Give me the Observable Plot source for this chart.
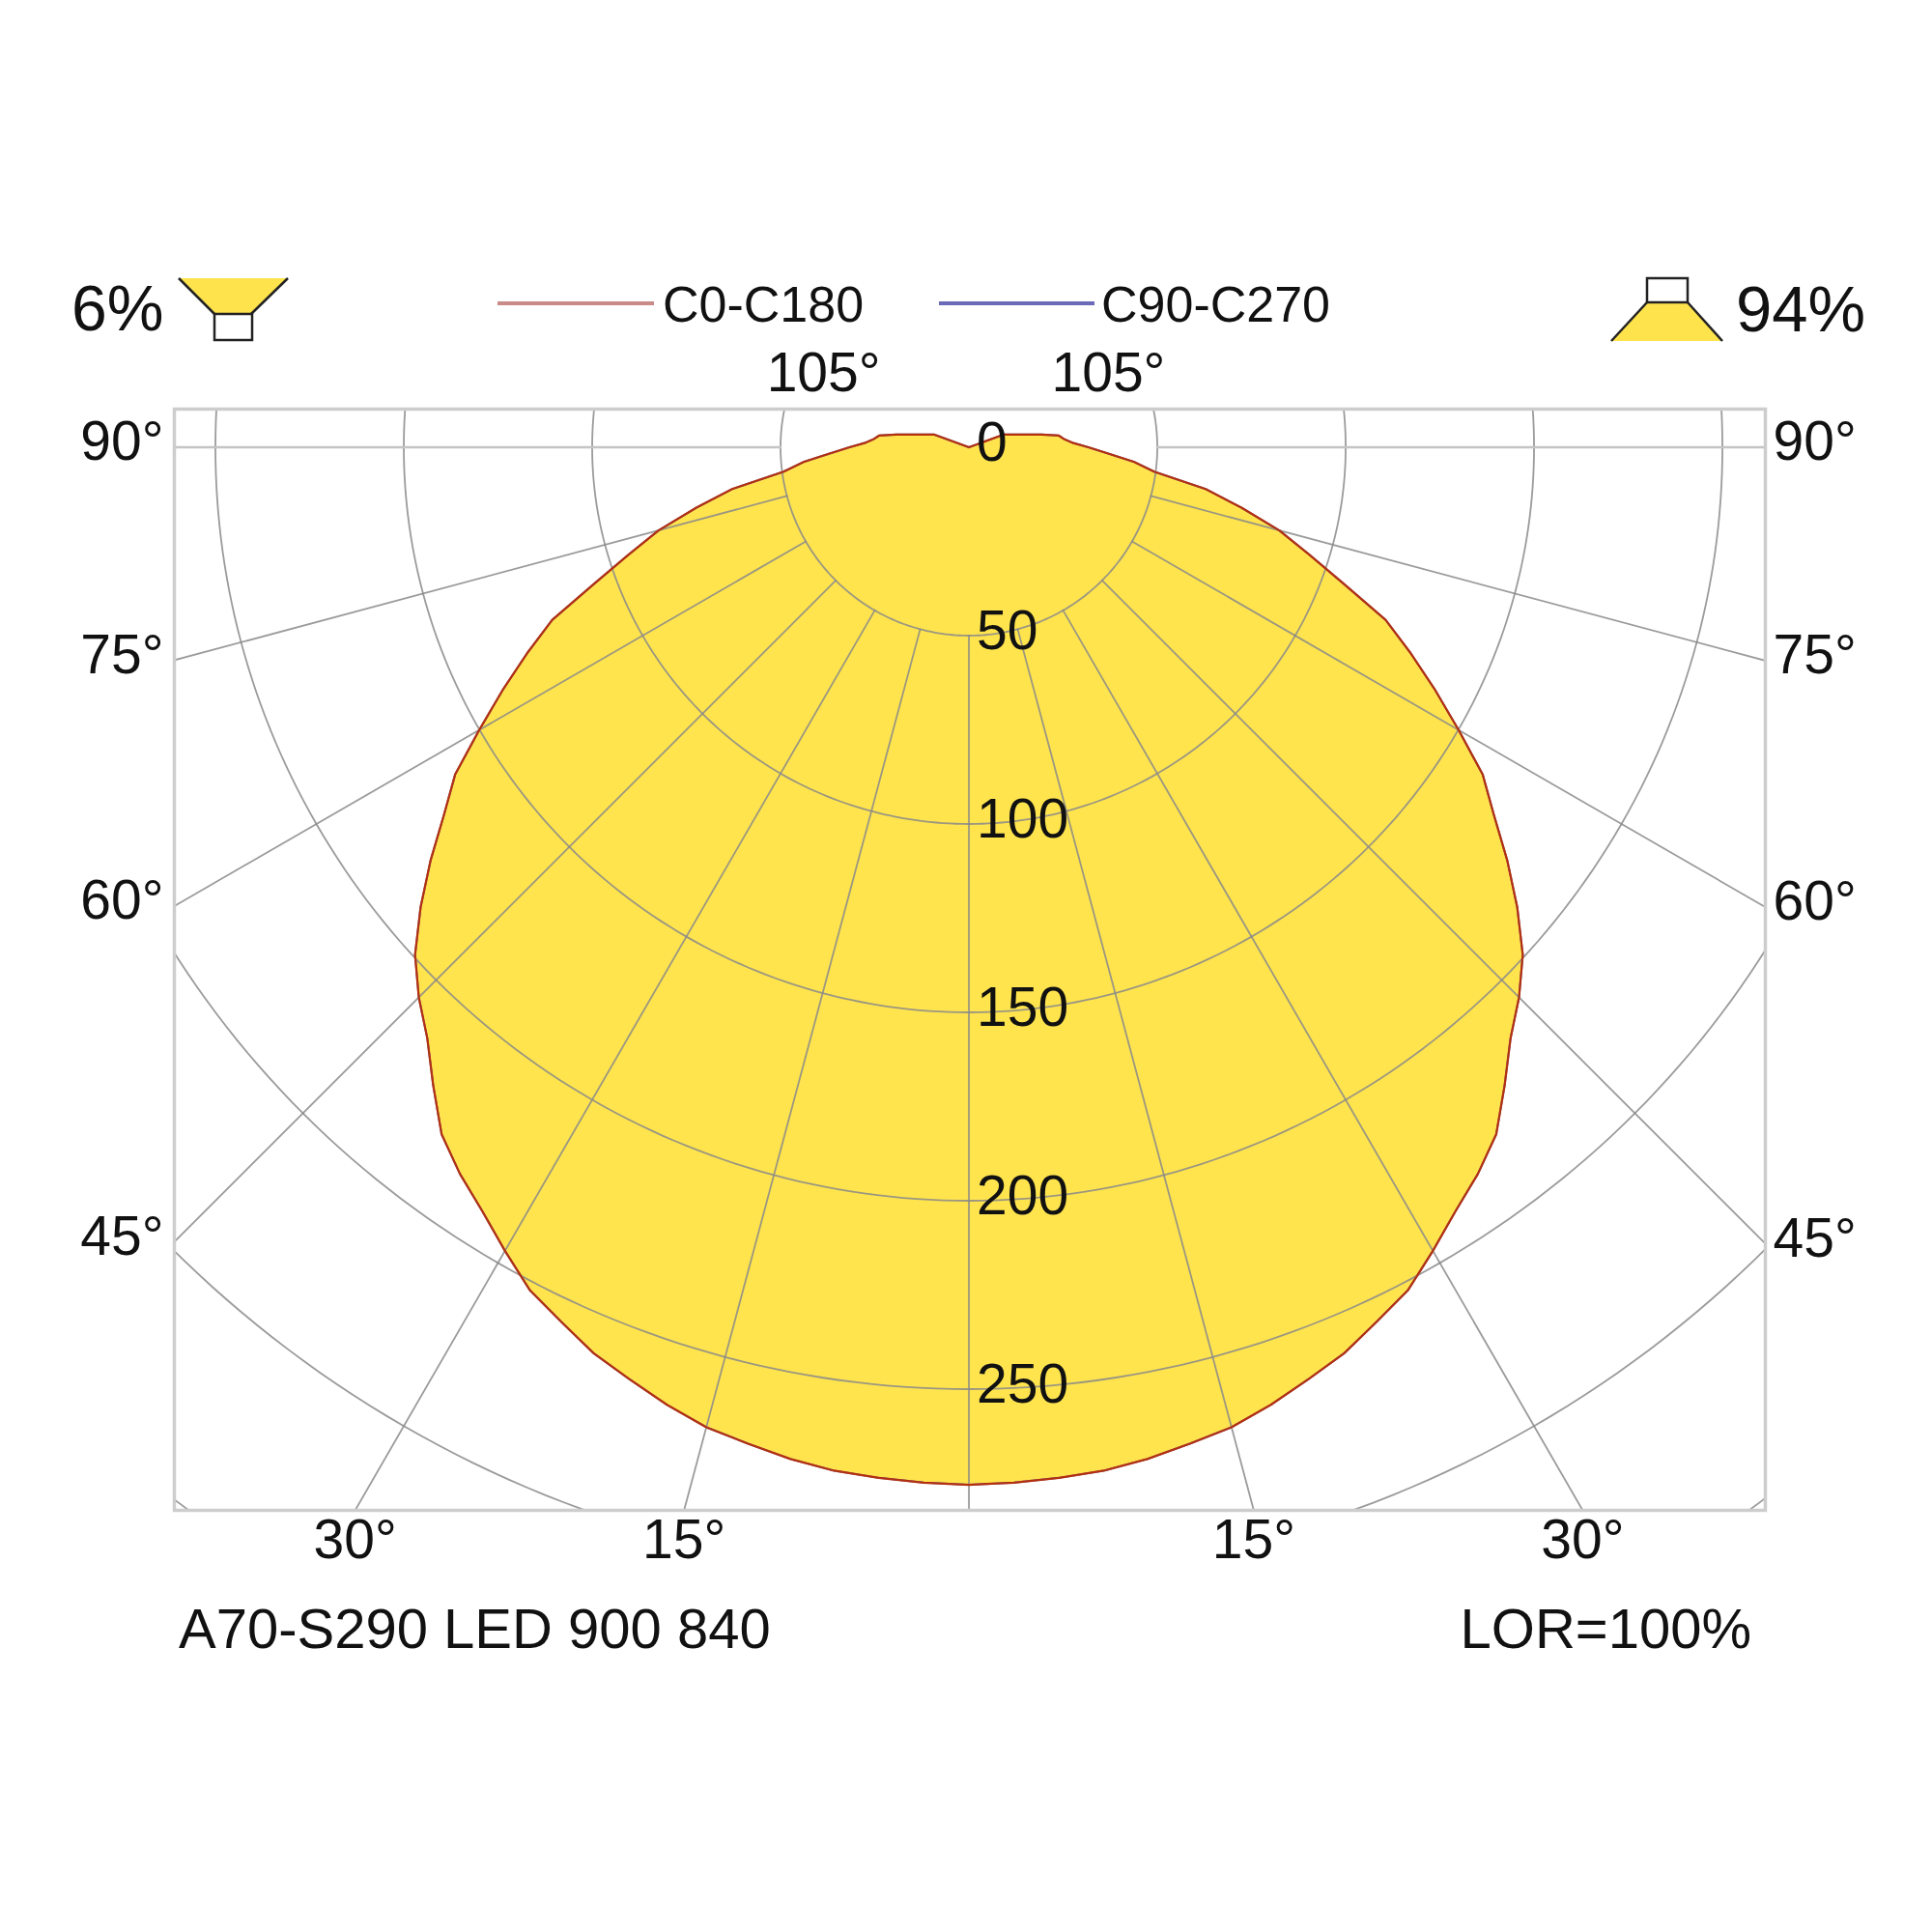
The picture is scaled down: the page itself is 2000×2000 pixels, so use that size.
<!DOCTYPE html>
<html>
<head>
<meta charset="utf-8">
<script src="https://cdn.jsdelivr.net/npm/d3@7"></script>
<script src="https://cdn.jsdelivr.net/npm/@observablehq/plot@0.6"></script>
<style>
  html, body { margin: 0; padding: 0; background: #fff; }
  #wrap { position: relative; width: 2000px; height: 2000px; background: #fff; font-family: 'Liberation Sans', Arial, sans-serif; }
  #legend, #caption { position: absolute; left: 0; }
  #legend { top: 0; }
  #chart { position: absolute; left: 0; top: 360px; }
  #caption { top: 1643px; }
</style>
</head>
<body>
<div id="wrap">
  <svg id="legend" width="2000" height="360" font-family="'Liberation Sans', Arial, sans-serif" fill="#111">
    <text x="74" y="342" font-size="66">6%</text>
    <polygon points="185,288 298,288 260,325 222,325" fill="#ffe34d"/>
    <line x1="185" y1="288" x2="222" y2="325" stroke="#222" stroke-width="2.5"/>
    <line x1="298" y1="288" x2="260" y2="325" stroke="#222" stroke-width="2.5"/>
    <rect x="222" y="325" width="39" height="27" fill="#fff" stroke="#222" stroke-width="2.5"/>
    <line x1="515" y1="314" x2="677" y2="314" stroke="#c98a8a" stroke-width="4"/>
    <text x="686" y="333" font-size="52">C0-C180</text>
    <line x1="972" y1="314" x2="1133" y2="314" stroke="#6a6ab8" stroke-width="4"/>
    <text x="1140" y="333" font-size="52">C90-C270</text>
    <polygon points="1705,313 1747,313 1783,353 1668,353" fill="#ffe34d"/>
    <line x1="1705" y1="313" x2="1668" y2="353" stroke="#222" stroke-width="2.5"/>
    <line x1="1747" y1="313" x2="1783" y2="353" stroke="#222" stroke-width="2.5"/>
    <rect x="1705" y="288" width="42" height="25" fill="#fff" stroke="#222" stroke-width="2.5"/>
    <text x="1797" y="343" font-size="67">94%</text>
  </svg>
  <div id="chart"></div>
  <svg id="caption" width="2000" height="150" font-family="'Liberation Sans', Arial, sans-serif" fill="#111">
    <text x="185" y="63" font-size="58">A70-S290 LED 900 840</text>
    <text x="1813" y="63" font-size="58" text-anchor="end">LOR=100%</text>
  </svg>
</div>
<script>
// ---- data ----
const gammaDeg = [0, 2.5, 5, 7.5, 10, 12.5, 15, 17.5, 20, 22.5, 25, 27.5, 30, 32.5, 35, 37.5, 40, 42.5, 45, 47.5,
  50, 52.5, 55, 57.5, 60, 62.5, 65, 67.5, 70, 72.5, 75, 77.5, 80, 82.5, 85, 87.5, 90, 92.5, 95, 97.5,
  100, 102.5, 105, 107.5, 110, 112.5, 115, 120, 125, 130, 135, 140, 145, 150, 155, 160, 165, 170, 175, 180];
const intensityC0C180 = [275.4, 275.1, 274.6, 274.0, 272.7, 270.9, 269.3, 266.5, 263.3, 260.3, 256.1, 252.3, 246.3, 240.4, 235.5, 229.9, 221.2, 212.8, 206.5, 199.4,
  190.0, 180.1, 170.1, 161.7, 150.1, 139.5, 129.4, 119.7, 105.8, 94.7, 85.3, 74.1, 63.8, 49.6, 43.9, 36.8, 31.7, 27.5, 25.3, 24.0,
  19.5, 15.6, 13.1, 11.2, 9.9, 0, 0, 0, 0, 0, 0, 0, 0, 0, 0, 0, 0, 0, 0, 0];
const intensityC90C270 = [275.4, 275.1, 274.6, 274.0, 272.7, 270.9, 269.3, 266.5, 263.3, 260.3, 256.1, 252.3, 246.3, 240.4, 235.5, 229.9, 221.2, 212.8, 206.5, 199.4,
  190.0, 180.1, 170.1, 161.7, 150.1, 139.5, 129.4, 119.7, 105.8, 94.7, 85.3, 74.1, 63.8, 49.6, 43.9, 36.8, 31.7, 27.5, 25.3, 24.0,
  19.5, 15.6, 13.1, 11.2, 9.9, 0, 0, 0, 0, 0, 0, 0, 0, 0, 0, 0, 0, 0, 0, 0];
const gridRadii = [50, 100, 150, 200, 250, 300, 350, 400, 450];
const radiusLabels = [0, 50, 100, 150, 200, 250];
const gridAngles = [0, 15, 30, 45, 60, 75, 90, 105];
const angleLabels = [15, 30, 45, 60, 75, 90, 105];

// ---- build polar -> cartesian tables ----
const rad = d => d * Math.PI / 180;
function polygon(values) {
  const pts = [];
  for (let i = gammaDeg.length - 1; i >= 0; i--)
    pts.push({x: -values[i] * Math.sin(rad(gammaDeg[i])), y: -values[i] * Math.cos(rad(gammaDeg[i]))});
  for (let i = 0; i < gammaDeg.length; i++)
    pts.push({x: values[i] * Math.sin(rad(gammaDeg[i])), y: -values[i] * Math.cos(rad(gammaDeg[i]))});
  return pts;
}
const curveC0 = polygon(intensityC0C180);
const curveC90 = polygon(intensityC90C270);

const circlePts = [];
for (const r of gridRadii)
  for (let a = 0; a <= 360; a += 1)
    circlePts.push({id: r, x: r * Math.sin(rad(a)), y: -r * Math.cos(rad(a))});

const radialPts = [];
for (const g of gridAngles) {
  for (const s of (g === 0 ? [1] : [-1, 1])) {
    if (g === 90) continue;
    const a = s * g;
    radialPts.push({id: a, x: 50 * Math.sin(rad(a)), y: -50 * Math.cos(rad(a))});
    radialPts.push({id: a, x: 700 * Math.sin(rad(a)), y: -700 * Math.cos(rad(a))});
  }
}
const horizPts = [
  {id: -1, x: -50, y: 0}, {id: -1, x: -700, y: 0},
  {id: 1, x: 50, y: 0}, {id: 1, x: 700, y: 0}
];

const xDomain = [-210.9, 211.4];
const yDomain = [-282.18, 10.13];

// label positions where each radial line leaves the frame
const angleLabelData = [];
for (const g of angleLabels) {
  for (const s of [-1, 1]) {
    const a = rad(s * g);
    const dx = Math.sin(a), dy = -Math.cos(a);
    const tx = dx < 0 ? xDomain[0] / dx : xDomain[1] / dx;
    const ty = Math.abs(dy) < 1e-9 ? Infinity : (dy < 0 ? yDomain[0] / dy : yDomain[1] / dy);
    let side;
    if (tx <= ty) side = dx < 0 ? "left" : "right";
    else side = dy < 0 ? "bottom" : "top";
    const t = Math.min(tx, ty);
    angleLabelData.push({label: g + "°", x: t * dx, y: t * dy, side});
  }
}

const font = "'Liberation Sans', Arial, sans-serif";
const textColor = "#111";
const fs = 57;

const chart = Plot.plot({
  width: 2000,
  height: 1284,
  marginTop: 63,
  marginBottom: 81,
  marginLeft: 180,
  marginRight: 173,
  x: {domain: xDomain, axis: null},
  y: {domain: yDomain, axis: null},
  style: {fontFamily: font, background: "white", overflow: "visible"},
  marks: [
    Plot.line(curveC90, {x: "x", y: "y", fill: "#ffe44e", stroke: "#6a6ab8", strokeWidth: 2, curve: "linear", clip: true}),
    Plot.line(circlePts, {x: "x", y: "y", z: "id", stroke: "#8a8a8a", strokeWidth: 1.8, strokeOpacity: 0.85, clip: true}),
    Plot.line(radialPts, {x: "x", y: "y", z: "id", stroke: "#8a8a8a", strokeWidth: 1.8, strokeOpacity: 0.85, clip: true}),
    Plot.line(horizPts, {x: "x", y: "y", z: "id", stroke: "#c4c4c4", strokeWidth: 2.6, clip: true}),
    Plot.line(curveC0, {x: "x", y: "y", stroke: "#b3300f", strokeWidth: 2.2, curve: "linear", clip: true}),
    Plot.frame({stroke: "#cdcdcd", strokeWidth: 3.5}),
    Plot.text(radiusLabels, {x: 0, y: d => -d, text: d => String(d), textAnchor: "start", dx: 8, dy: -4, fontSize: fs, fill: textColor}),
    Plot.text(angleLabelData.filter(d => d.side === "left"), {x: "x", y: "y", text: "label", textAnchor: "end", dx: -11, dy: -5, fontSize: fs, fill: textColor}),
    Plot.text(angleLabelData.filter(d => d.side === "right"), {x: "x", y: "y", text: "label", textAnchor: "start", dx: 8, dy: -5, fontSize: fs, fill: textColor}),
    Plot.text(angleLabelData.filter(d => d.side === "bottom"), {x: "x", y: "y", text: "label", textAnchor: "middle", dy: 31, fontSize: fs, fill: textColor}),
    Plot.text(angleLabelData.filter(d => d.side === "top"), {x: "x", y: "y", text: "label", textAnchor: "middle", dx: -3, dy: -37, fontSize: fs, fill: textColor})
  ]
});
document.getElementById("chart").appendChild(chart);
</script>
</body>
</html>
